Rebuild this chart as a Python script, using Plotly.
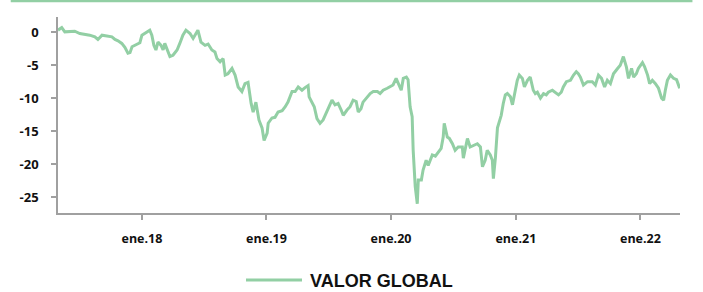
import plotly.graph_objects as go

series_name = "VALOR GLOBAL"

dates = [
    "2017-04-30", "2017-05-11", "2017-05-20", "2017-06-04", "2017-06-18", "2017-07-03", "2017-07-18",
    "2017-08-01", "2017-08-16", "2017-08-25", "2017-09-06", "2017-09-20", "2017-10-05", "2017-10-14",
    "2017-10-23", "2017-11-03", "2017-11-12", "2017-11-21", "2017-11-27", "2017-12-03", "2017-12-17",
    "2017-12-26",
    "2018-01-01", "2018-01-16", "2018-01-24", "2018-01-30", "2018-02-05", "2018-02-11", "2018-02-17",
    "2018-02-26", "2018-03-04", "2018-03-09", "2018-03-18", "2018-03-24", "2018-04-02", "2018-04-14",
    "2018-04-22", "2018-05-01", "2018-05-10", "2018-05-22", "2018-05-31", "2018-06-11", "2018-06-14",
    "2018-06-23", "2018-07-05", "2018-07-14", "2018-07-25", "2018-08-03", "2018-08-09", "2018-08-18",
    "2018-08-27", "2018-09-02", "2018-09-10", "2018-09-22", "2018-10-01", "2018-10-10", "2018-10-21",
    "2018-10-30", "2018-11-08", "2018-11-17", "2018-11-23", "2018-12-01", "2018-12-10", "2018-12-19",
    "2018-12-25",
    "2019-01-03", "2019-01-06", "2019-01-17", "2019-01-26", "2019-02-04", "2019-02-16", "2019-02-25",
    "2019-03-05", "2019-03-17", "2019-03-26", "2019-04-04", "2019-04-15", "2019-04-24", "2019-05-03",
    "2019-05-06", "2019-05-15", "2019-05-21", "2019-05-29", "2019-06-07", "2019-06-16", "2019-06-28",
    "2019-07-07", "2019-07-12", "2019-07-21", "2019-07-30", "2019-08-08", "2019-08-14", "2019-08-25",
    "2019-09-03", "2019-09-12", "2019-09-21", "2019-09-27", "2019-10-05", "2019-10-11", "2019-10-23",
    "2019-11-01", "2019-11-10", "2019-11-22", "2019-11-30", "2019-12-09", "2019-12-21", "2019-12-30",
    "2020-01-07", "2020-01-16", "2020-01-22", "2020-01-31", "2020-02-06", "2020-02-15", "2020-02-20",
    "2020-02-26", "2020-03-03", "2020-03-06", "2020-03-12", "2020-03-18", "2020-03-21", "2020-03-30",
    "2020-04-04", "2020-04-13", "2020-04-19", "2020-05-01", "2020-05-10", "2020-05-18", "2020-05-27",
    "2020-06-02", "2020-06-05", "2020-06-14", "2020-06-20", "2020-06-29", "2020-07-07", "2020-07-16",
    "2020-07-28", "2020-07-31", "2020-08-06", "2020-08-12", "2020-08-20", "2020-08-29", "2020-09-10",
    "2020-09-19", "2020-09-25", "2020-10-03", "2020-10-09", "2020-10-18", "2020-10-24", "2020-10-27",
    "2020-11-02", "2020-11-08", "2020-11-13", "2020-11-19", "2020-11-25", "2020-12-01", "2020-12-07",
    "2020-12-16", "2020-12-22", "2020-12-27",
    "2021-01-05", "2021-01-11", "2021-01-20", "2021-01-26", "2021-02-04", "2021-02-12", "2021-02-21",
    "2021-02-27", "2021-03-05", "2021-03-14", "2021-03-23", "2021-03-31", "2021-04-06", "2021-04-18",
    "2021-04-27", "2021-05-06", "2021-05-14", "2021-05-20", "2021-05-29", "2021-06-10", "2021-06-19",
    "2021-06-27", "2021-07-03", "2021-07-09", "2021-07-18", "2021-07-30", "2021-08-13", "2021-08-22",
    "2021-08-31", "2021-09-09", "2021-09-18", "2021-09-26", "2021-10-05", "2021-10-14", "2021-10-26",
    "2021-11-03", "2021-11-12", "2021-11-21", "2021-11-27", "2021-12-06", "2021-12-12", "2021-12-20",
    "2021-12-26",
    "2022-01-07", "2022-01-13", "2022-01-22", "2022-01-28", "2022-02-05", "2022-02-14", "2022-02-23",
    "2022-03-04", "2022-03-10", "2022-03-15", "2022-03-21", "2022-03-30", "2022-04-08", "2022-04-17",
    "2022-04-23", "2022-04-26",
]

values = [
    0.3, 0.7, 0.05, 0.15, 0.15, -0.2, -0.3,
    -0.45, -0.7, -1.1, -0.45, -0.55, -0.7, -1.1,
    -1.3, -1.7, -2.3, -3.2, -3.1, -2.2, -1.8,
    -1.6,
    -0.45, 0.05, 0.3, -0.45, -2.0, -2.7, -1.5,
    -2.0, -2.7, -1.7, -3.0, -3.7, -3.5, -2.7,
    -1.7, -0.45, 0.3, -0.2, -0.95, 0.05, 0.3,
    -1.5, -2.0, -1.8, -2.7, -3.0, -4.0, -4.5,
    -4.0, -6.5, -6.3, -5.5, -6.5, -8.3, -9.0,
    -7.8, -7.6, -10.8, -12.1, -10.6, -13.3, -14.5,
    -16.4,
    -15.3, -13.8, -13.0, -12.9, -12.1, -11.9, -11.3,
    -10.6, -9.0, -9.0, -8.3, -8.8, -8.4, -8.1,
    -9.8, -10.8, -11.3, -13.1, -13.8, -13.3, -11.8,
    -10.8, -10.3, -11.0, -10.8, -11.8, -12.6, -11.8,
    -11.3, -10.3, -10.5, -12.1, -11.6, -10.6, -9.8,
    -9.3, -9.0, -9.0, -9.3, -8.8, -8.5, -8.3,
    -8.0, -7.0, -7.8, -8.8, -7.0, -6.8, -7.2,
    -11.3, -12.8, -17.9, -23.4, -26.0, -22.4, -22.4,
    -20.9, -19.4, -20.2, -18.6, -18.8, -18.3, -17.6,
    -15.9, -13.8, -15.9, -16.1, -16.9, -17.9, -17.4,
    -17.4, -19.1, -17.4, -16.1, -17.4, -17.2, -16.9,
    -17.4, -20.4, -19.4, -17.9, -18.6, -19.4, -22.2,
    -19.0, -14.5, -13.5, -12.6, -10.8, -9.5, -9.3,
    -9.8, -11.0, -9.5,
    -7.3, -6.5, -7.0, -8.3, -7.3, -6.8, -8.8,
    -9.3, -9.1, -10.0, -9.3, -9.5, -9.1, -8.8,
    -9.1, -9.5, -9.1, -8.3, -7.5, -7.3, -6.5,
    -6.0, -6.3, -6.8, -8.0, -7.5, -7.5, -8.0,
    -6.5, -7.0, -8.3, -7.3, -7.8, -6.3, -5.5,
    -5.0, -3.7, -5.3, -7.0, -5.5, -6.8, -6.3,
    -5.5,
    -4.6, -5.2, -6.5, -7.8, -7.3, -7.8, -8.5,
    -10.0, -10.3, -8.8, -7.3, -6.5, -7.0, -7.2,
    -8.3, -8.5,
]

x_tick_vals = ["2018-01-01", "2019-01-01", "2020-01-01", "2021-01-01", "2022-01-01"]
x_tick_text = ["ene.18", "ene.19", "ene.20", "ene.21", "ene.22"]
y_tick_vals = [0, -5, -10, -15, -20, -25]
y_tick_text = ["0", "-5", "-10", "-15", "-20", "-25"]

GREEN = "#92cfa4"
AXIS = "#a0a0a0"
TXT = "#111111"

fig = go.Figure()
fig.add_trace(go.Scatter(
    x=dates, y=values, mode="lines", name=series_name,
    line=dict(color=GREEN, width=3), showlegend=False,
))

fig.update_layout(
    width=703, height=292,
    margin=dict(l=58, r=23, t=17, b=79),
    paper_bgcolor="white", plot_bgcolor="white",
    font=dict(family="Open Sans", size=12, color=TXT),
    xaxis=dict(
        range=["2017-04-30", "2022-04-27"],
        tickmode="array", tickvals=x_tick_vals, ticktext=x_tick_text,
        showgrid=False, zeroline=False,
        showline=True, linecolor=AXIS, linewidth=1.5,
        ticks="outside", ticklen=5, tickcolor=AXIS, tickwidth=1.5,
        ticklabelstandoff=8,
        tickfont=dict(family="Open Sans", size=12.5, color=TXT, weight="bold"),
    ),
    yaxis=dict(
        range=[-27.4, 2.3],
        tickmode="array", tickvals=y_tick_vals, ticktext=y_tick_text,
        showgrid=False, zeroline=False,
        showline=True, linecolor=AXIS, linewidth=1.5,
        ticks="outside", ticklen=5, tickcolor=AXIS, tickwidth=1.5,
        ticklabelstandoff=10,
        tickfont=dict(family="Open Sans", size=13, color=TXT, weight="bold"),
    ),
    shapes=[
        # top decorative rule
        dict(type="line", xref="paper", yref="paper",
             x0=-0.076, x1=1.02, y0=1.082, y1=1.082,
             line=dict(color=GREEN, width=2.5)),
        # legend sample line
        dict(type="line", xref="paper", yref="paper",
             x0=(246 - 58) / 622, x1=(302 - 58) / 622,
             y0=-(280 - 213) / 196, y1=-(280 - 213) / 196,
             line=dict(color=GREEN, width=3)),
    ],
    annotations=[
        dict(text=series_name, xref="paper", yref="paper",
             x=(308 - 58) / 622, y=-(281 - 213) / 196,
             xanchor="left", yanchor="middle", showarrow=False,
             font=dict(family="Liberation Sans", size=18, color=TXT, weight="bold")),
    ],
)

fig.write_html("out.html", config={"displayModeBar": False},
               post_script="document.body.style.margin='0';")
